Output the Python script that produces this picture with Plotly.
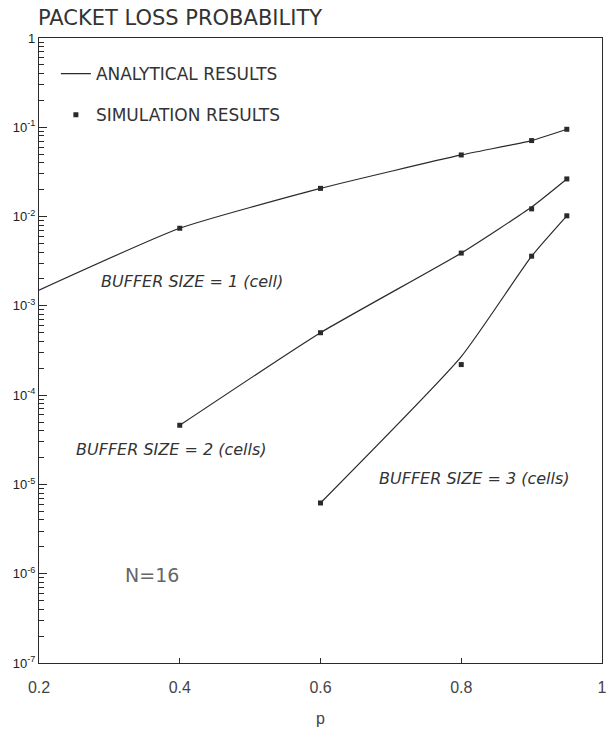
import plotly.graph_objects as go

# ---- data ----
p_buf1_line = [0.2, 0.4, 0.6, 0.8, 0.9, 0.95]
ana_buf1 = [1.5e-3, 7.4e-3, 2.07e-2, 4.9e-2, 7.1e-2, 9.5e-2]
p_buf1_sim = [0.4, 0.6, 0.8, 0.9, 0.95]
sim_buf1 = [7.4e-3, 2.07e-2, 4.9e-2, 7.1e-2, 9.5e-2]

p_buf2 = [0.4, 0.6, 0.8, 0.9, 0.95]
ana_buf2 = [4.6e-5, 5.0e-4, 3.9e-3, 1.28e-2, 2.64e-2]
sim_buf2 = [4.6e-5, 5.0e-4, 3.9e-3, 1.22e-2, 2.64e-2]

p_buf3 = [0.6, 0.8, 0.9, 0.95]
ana_buf3 = [6.2e-6, 2.7e-4, 3.6e-3, 1.02e-2]
sim_buf3 = [6.2e-6, 2.2e-4, 3.6e-3, 1.02e-2]

ytick_vals = [1e-7, 1e-6, 1e-5, 1e-4, 1e-3, 1e-2, 1e-1, 1]
ytick_text = ["10<sup>-7</sup>", "10<sup>-6</sup>", "10<sup>-5</sup>", "10<sup>-4</sup>",
              "10<sup>-3</sup>", "10<sup>-2</sup>", "10<sup>-1</sup>", "1"]
xtick_vals = [0.2, 0.4, 0.6, 0.8, 1.0]
xtick_text = ["0.2", "0.4", "0.6", "0.8", "1"]

LINE = "#2a2a2a"
FONT = "DejaVu Sans"
TFONT = "Liberation Sans"

fig = go.Figure()
line_style = dict(color=LINE, width=1.2, shape="spline", smoothing=0.5)
fig.add_trace(go.Scatter(x=p_buf1_line, y=ana_buf1, mode="lines", line=line_style,
                         name="ANALYTICAL RESULTS", legendgroup="a", showlegend=True))
fig.add_trace(go.Scatter(x=p_buf2, y=ana_buf2, mode="lines", line=line_style,
                         legendgroup="a", showlegend=False))
fig.add_trace(go.Scatter(x=p_buf3, y=ana_buf3, mode="lines", line=line_style,
                         legendgroup="a", showlegend=False))
mk = dict(symbol="square", size=5, color=LINE)
fig.add_trace(go.Scatter(x=p_buf1_sim, y=sim_buf1, mode="markers", marker=mk,
                         name="SIMULATION RESULTS", legendgroup="s", showlegend=True))
fig.add_trace(go.Scatter(x=p_buf2, y=sim_buf2, mode="markers", marker=mk,
                         legendgroup="s", showlegend=False))
fig.add_trace(go.Scatter(x=p_buf3, y=sim_buf3, mode="markers", marker=mk,
                         legendgroup="s", showlegend=False))

ann_font = dict(family=FONT, size=16, color="#333")
annotations = [
    dict(text="<i>BUFFER SIZE = 1 (cell)</i>", x=0.272, y=0.611),
    dict(text="<i>BUFFER SIZE = 2 (cells)</i>", x=0.236, y=0.342),
    dict(text="<i>BUFFER SIZE = 3 (cells)</i>", x=0.773, y=0.296),
]
for a in annotations:
    fig.add_annotation(xref="paper", yref="paper", showarrow=False, font=ann_font,
                       xanchor="center", yanchor="middle", **a)
fig.add_annotation(xref="paper", yref="paper", x=0.201, y=0.141, showarrow=False,
                   xanchor="center", yanchor="middle",
                   text="N=16", font=dict(family=FONT, size=19, color="#666"))

fig.update_layout(
    width=606, height=734,
    margin=dict(l=39, r=4, t=38, b=71, autoexpand=False),
    paper_bgcolor="white", plot_bgcolor="white",
    font=dict(family=FONT, color="#333"),
    title=dict(text="PACKET LOSS PROBABILITY", xref="container", yref="container",
               x=38/606, xanchor="left", y=1-18/734, yanchor="middle",
               font=dict(family=FONT, size=21, color="#333"), automargin=False),
    legend=dict(x=0.03, y=0.971, xanchor="left", yanchor="top",
                bgcolor="rgba(0,0,0,0)", font=dict(family=FONT, size=17, color="#333"),
                traceorder="grouped", tracegroupgap=16, itemwidth=30),
    showlegend=True,
)
fig.update_xaxes(range=[0.2, 1.0], tickvals=xtick_vals, ticktext=xtick_text,
                 ticks="inside", ticklen=5, tickcolor=LINE, automargin=False,
                 ticklabeloverflow="allow", ticklabelstandoff=10,
                 showline=True, linecolor=LINE, linewidth=1.2, mirror=True,
                 showgrid=False, zeroline=False,
                 tickfont=dict(family=TFONT, size=16, color="#444"),
                 title=dict(text="p", font=dict(family=TFONT, size=16, color="#444"), standoff=17))
fig.update_yaxes(type="log", range=[-7, 0], tickvals=ytick_vals, ticktext=ytick_text,
                 ticks="inside", ticklen=8, tickcolor=LINE, automargin=False,
                 ticklabeloverflow="allow",
                 minor=dict(ticks="inside", ticklen=5, tickcolor=LINE, dtick="D1", showgrid=False),
                 showline=True, linecolor=LINE, linewidth=1.2, mirror=True,
                 showgrid=False, zeroline=False,
                 tickfont=dict(family=TFONT, size=13, color="#222"))

fig.write_html("out.html", config={"displayModeBar": False},
               post_script="document.body.style.margin='0';")
